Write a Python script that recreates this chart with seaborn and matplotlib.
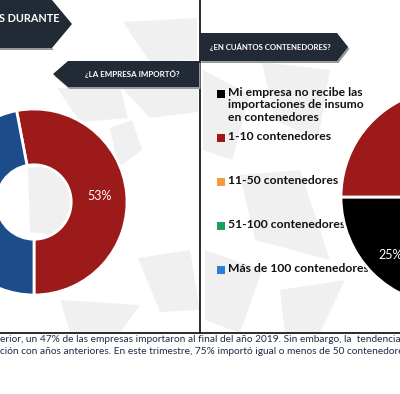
import matplotlib
matplotlib.use("Agg")
import matplotlib.pyplot as plt
from matplotlib.patches import Polygon, Rectangle
import seaborn as sns

# ----------------- data

import_labels = ["No", "Sí"]
import_values = [53, 47]
import_colors = ["#9C1A1A", "#1D4C8A"]

container_labels = [
    "Mi empresa no recibe las\nimportaciones de insumo\nen contenedores",
    "1-10 contenedores",
    "11-50 contenedores",
    "51-100 contenedores",
    "Más de 100 contenedores",
]
container_values = [25, 75, 0, 0, 0]
container_colors = ["#000000", "#9C1A1A", "#F39A3B", "#1E9E5A", "#2E7FD4"]

header_text = "S DURANTE"
left_title = "¿LA EMPRESA IMPORTÓ?"
right_title = "¿EN CUÁNTOS CONTENEDORES?"
note_lines = [
    "erior, un 47% de las empresas importaron al final del año 2019. Sin embargo, la  tendencia",
    "ción con años anteriores. En este trimestre, 75% importó igual o menos de 50 contenedores.",
]

# ----------------- canvas

sns.set_theme(style="white")
plt.rcParams["font.family"] = ["Lato", "DejaVu Sans"]

W, H = 400, 394
NAVY = "#222A36"
fig = plt.figure(figsize=(W / 100, H / 100), dpi=100)
bg = fig.add_axes([0, 0, 1, 1])
bg.set_xlim(0, W)
bg.set_ylim(H, 0)
bg.axis("off")

# faint watermark shards
shards = [
    [(123, 22), (197, 18), (197, 60), (150, 62)],
    [(57, 88), (120, 86), (128, 118), (80, 122)],
    [(122, 88), (198, 86), (198, 112), (150, 118)],
    [(110, 128), (132, 120), (142, 150), (118, 168)],
    [(28, 168), (95, 162), (112, 200), (80, 238), (30, 232)],
    [(138, 258), (190, 250), (200, 310), (160, 312)],
    [(60, 300), (140, 305), (120, 333), (70, 333)],
    [(203, 70), (250, 95), (232, 160), (203, 150)],
    [(262, 62), (330, 70), (318, 140), (275, 120)],
    [(240, 175), (300, 170), (330, 260), (255, 240)],
    [(205, 250), (262, 270), (240, 333), (205, 320)],
    [(280, 290), (345, 280), (320, 333), (285, 333)],
]
for pts in shards:
    bg.add_patch(Polygon(pts, closed=True, color="#F0F0F0", lw=0, zorder=0))

# panel rules
bg.plot([200, 200], [0, 333], color="#1A1A1A", lw=1.3, zorder=1)
bg.plot([0, W], [333, 333], color="#1A1A1A", lw=1.3, zorder=1)


def banner(pts, text, x, y, size):
    shadow = [(px + 1.5, py + 2) for px, py in pts]
    bg.add_patch(Polygon(shadow, closed=True, color="#9A9A9A", lw=0, zorder=2))
    bg.add_patch(Polygon(pts, closed=True, color=NAVY, lw=0, zorder=3))
    bg.text(x, y, text, color="white", fontsize=size, fontweight="bold",
            ha="center", va="center", zorder=4)


bg.add_patch(Polygon([(0, 0), (52, 0), (72, 24), (52, 48), (0, 48)],
                     closed=True, color=NAVY, lw=0, zorder=3))
bg.add_patch(Polygon([(0, 48), (52, 48), (54, 50), (0, 50)],
                     closed=True, color="#9A9A9A", lw=0, zorder=2))
bg.text(-1, 18, header_text, color="white", fontsize=7.8, fontweight="bold",
        ha="left", va="center", zorder=4)
banner([(53, 74), (68, 61), (199, 61), (199, 87), (68, 87)], left_title, 132, 74, 5.8)
banner([(200, 33), (337, 33), (348, 47), (337, 61), (200, 61)], right_title, 270, 47, 5.6)


def pie_axes(cx, cy, r):
    ax = fig.add_axes([(cx - r) / W, 1 - (cy + r) / H, 2 * r / W, 2 * r / H])
    ax.set_zorder(5)
    return ax


# ----------------- left donut
ax1 = pie_axes(34, 202, 93)
ax1.pie(
    import_values,
    colors=import_colors,
    startangle=100.8,
    counterclock=False,
    autopct=lambda p: f"{p:.0f}%",
    pctdistance=0.71,
    wedgeprops=dict(width=0.6, edgecolor="white", linewidth=2),
    textprops=dict(color="white", fontsize=9),
)
ax1.set_xlim(-1, 1)
ax1.set_ylim(-1, 1)

# ----------------- right pie
vals = [v for v in container_values if v > 0]
cols = [c for v, c in zip(container_values, container_colors) if v > 0]
ax2 = pie_axes(449, 197, 108)
ax2.pie(
    vals,
    colors=cols,
    startangle=180,
    counterclock=True,
    autopct=lambda p: f"{p:.0f}%",
    pctdistance=0.76,
    wedgeprops=dict(edgecolor="white", linewidth=2),
    textprops=dict(color="white", fontsize=9),
)
ax2.set_xlim(-1, 1)
ax2.set_ylim(-1, 1)

# ----------------- legend
for i, (lab, col) in enumerate(zip(container_labels, container_colors)):
    yc = 94 + 44 * i
    bg.add_patch(Rectangle((217, yc - 4), 8, 8, color=col, lw=0, zorder=4))
    bg.text(228, yc - 7.5, lab, fontsize=8.7, fontweight="bold", color="#111111",
            ha="left", va="top", linespacing=1.2, zorder=4)

# ----------------- note
for j, line in enumerate(note_lines):
    bg.text(0, 339 + 13 * j, line, fontsize=7.3, color="#1F2B45",
            ha="left", va="center", zorder=4)

fig.savefig("out.png", dpi=100)
